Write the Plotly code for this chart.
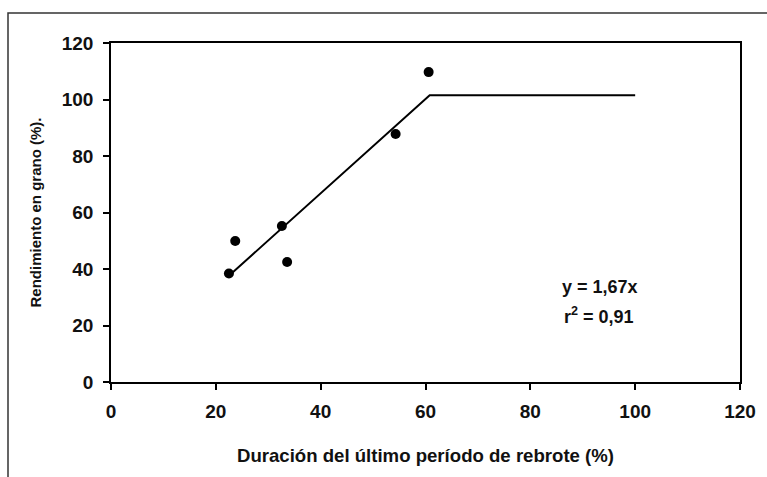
import plotly.graph_objects as go

# Observed grain yield vs. duration of last regrowth period
duracion = [22.5, 23.7, 32.6, 33.6, 54.3, 60.6]
rendimiento = [38.4, 49.9, 55.2, 42.5, 87.8, 109.7]

# Fitted model: linear (y = 1.67x) up to the breakpoint, then plateau
modelo_x = [22.5, 60.8, 100]
modelo_y = [37.6, 101.5, 101.5]

x_ticks = [0, 20, 40, 60, 80, 100, 120]
y_ticks = [0, 20, 40, 60, 80, 100, 120]

ecuacion = "y = 1,67x"
r2 = "r<sup>2</sup> = 0,91"

FONT = "Liberation Sans, Arial, sans-serif"

fig = go.Figure()
fig.add_trace(go.Scatter(
    x=modelo_x, y=modelo_y, mode="lines",
    line=dict(color="black", width=2), showlegend=False, hoverinfo="skip"))
fig.add_trace(go.Scatter(
    x=duracion, y=rendimiento, mode="markers",
    marker=dict(color="black", size=10), showlegend=False))

eq_font = dict(family=FONT, size=18, color="#111", weight="bold")
fig.add_annotation(
    xref="paper", yref="paper", x=(600 - 111) / 629, y=(382 - 287) / 339,
    text=ecuacion, showarrow=False, xanchor="center", yanchor="middle",
    font=eq_font)
fig.add_annotation(
    xref="paper", yref="paper", x=(599 - 111) / 629, y=(382 - 315) / 339,
    text=r2, showarrow=False, xanchor="center", yanchor="middle",
    font=eq_font)

# Outer frame: top and left edges only within the canvas
left_px, top_px = 8, 13
fig.add_shape(
    type="path", xref="paper", yref="paper",
    path=f"M {(left_px - 111) / 629},{(382 - 490) / 339} "
         f"L {(left_px - 111) / 629},{(382 - top_px) / 339} "
         f"L {(780 - 111) / 629},{(382 - top_px) / 339}",
    line=dict(color="#333", width=1.5))

axis_common = dict(
    showline=True, linecolor="black", linewidth=1.5, mirror=True,
    ticks="outside", ticklen=6, tickwidth=1.5, tickcolor="black",
    showgrid=False, zeroline=False,
    tickfont=dict(family=FONT, size=19, color="#111", weight="bold"),
)

fig.update_xaxes(
    range=[0, 120], tickvals=x_ticks, ticklabelstandoff=5,
    title=dict(text="Duración del último período de rebrote (%)",
               font=dict(family=FONT, size=18.6, color="#111", weight="bold"),
               standoff=28),
    **axis_common)
fig.update_yaxes(
    range=[0, 120], tickvals=y_ticks, ticklabelstandoff=6,
    title=dict(text="Rendimiento en grano (%).",
               font=dict(family=FONT, size=15, color="#111", weight="bold"),
               standoff=16),
    **axis_common)

fig.update_layout(
    width=767, height=477,
    margin=dict(l=111, r=27, t=43, b=95),
    paper_bgcolor="white", plot_bgcolor="white",
)

fig.write_html("out.html")
